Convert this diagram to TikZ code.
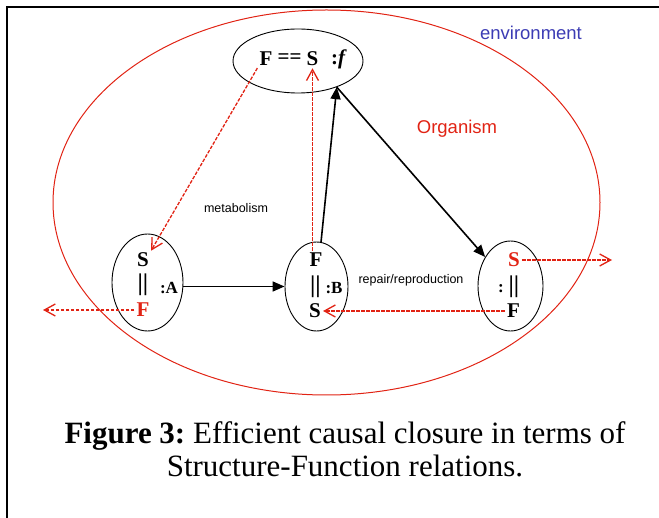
\documentclass[tikz,border=0pt]{standalone}
\usepackage{fontspec}
\setmainfont{Liberation Serif}
\setsansfont{Liberation Sans}
\usetikzlibrary{shapes.geometric,arrows.meta}
\definecolor{orgred}{RGB}{225,35,20}
\definecolor{envblue}{RGB}{60,60,180}

\begin{document}
\begin{tikzpicture}[x=1pt,y=-1pt,>={Triangle[length=12pt,width=10pt]}]
    \tikzstyle{unit}=[ellipse,draw=black,line width=0.9pt,inner sep=0pt]
    \tikzstyle{sym}=[font=\fontsize{21}{21}\selectfont\bfseries,inner sep=2pt]
    \tikzstyle{bars}=[font=\fontsize{24}{24}\selectfont\bfseries,inner sep=1pt]
    \tikzstyle{tag}=[font=\fontsize{17}{17}\selectfont\bfseries,inner sep=1pt]
    \tikzstyle{flow}=[->,draw=black,line width=1.6pt]
    \tikzstyle{leak}=[-{Straight Barb[length=11pt,width=12pt]},draw=orgred,line width=1.3pt,dash pattern=on 3.5pt off 1.5pt]
    \tikzstyle{annot}=[font=\sffamily\fontsize{12.5}{12.5}\selectfont,inner sep=0pt]

    \useasboundingbox (0,0) rectangle (659,518);
    % frame
    \draw[line width=2pt] (6.5,518) -- (6.5,7.5) -- (659,7.5);

    % organism and environment
    \node[ellipse,draw=orgred,line width=1pt,minimum width=547,minimum height=385,inner sep=0pt] (org) at (326.5,202.5) {};
    \node[annot,text=orgred,font=\sffamily\fontsize{18.5}{18.5}\selectfont] (orglabel) at (457,129) {Organism};
    \node[annot,text=envblue,font=\sffamily\fontsize{18.5}{18.5}\selectfont] (envlabel) at (531,32.5) {environment};

    % the function node
    \node[unit,minimum width=130,minimum height=64] (f) at (298,61) {};
    \node[sym] (f-F) at (266,59) {F};
    \node[sym] (f-eq) at (289.5,59) {==};
    \node[sym] (f-S) at (312.5,59) {S};
    \node[sym] (f-f) at (339,59) {:\textit{f}};

    % the three units A, B, C
    \foreach \name/\x/\y/\w/\h in {A/147.5/282.5/71/97,B/316.5/286.5/63/89,C/510.5/286/65/90}
        \node[unit,minimum width=\w,minimum height=\h] (\name) at (\x,\y) {};

    \node[sym] (A-S) at (143,260) {S};
    \node[bars] (A-bar) at (143,285) {||};
    \node[tag] (A-tag) at (169,288) {:A};
    \node[sym,text=orgred] (A-F) at (143,310) {F};

    \node[sym] (B-F) at (316,260) {F};
    \node[bars] (B-bar) at (315.5,287) {||};
    \node[tag] (B-tag) at (334,288) {:B};
    \node[sym] (B-S) at (315,311) {S};

    \node[sym,text=orgred] (C-S) at (514,260) {S};
    \node[tag] (C-tag) at (501,289) {:};
    \node[bars] (C-bar) at (514,287) {||};
    \node[sym] (C-F) at (513.5,311) {F};

    % annotations
    \node[annot] (metab) at (236,208) {metabolism};
    \node[annot] (repair) at (411,280) {repair/reproduction};

    % efficient causes
    \draw[flow] (A.east |- B) -- (B.west);
    \draw[flow] (B) -- (f.-34);
    \draw[flow] (f.-34) -- (C);

    % material flows
    \coordinate (A-out) at (43,310);
    \coordinate (C-out) at (612,260);
    \draw[leak] (f-F.south west) -- (A-S.north east);
    \draw[leak] (f-S.south |- B-F.north) -- (f-S.south);
    \draw[leak] (A-F.west) -- (A-out);
    \draw[leak] (C-S.east) -- (C-out);
    \draw[leak] (C-F.west) -- (B-S.east);

    % caption
    \node[font=\fontsize{31}{33}\selectfont,align=center] (caption) at (345,449) {\textbf{Figure 3:}\ Efficient causal closure in terms of\\Structure-Function relations.};
\end{tikzpicture}
\end{document}
